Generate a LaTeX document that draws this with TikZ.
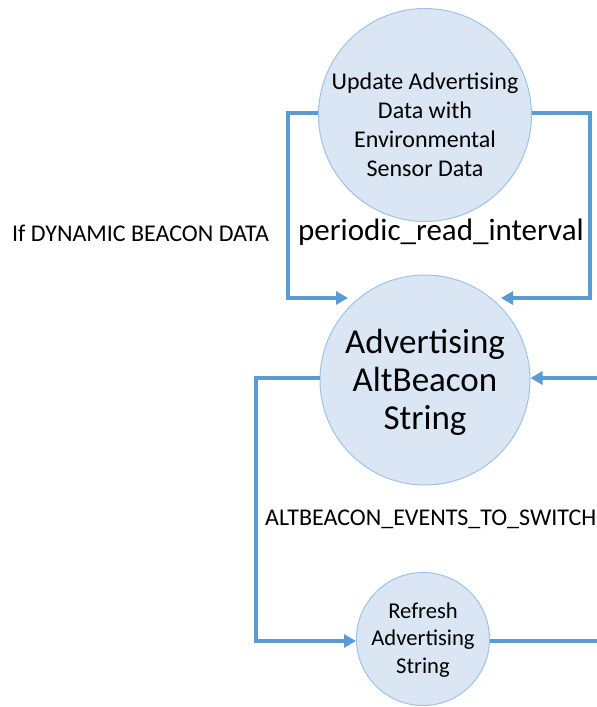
\documentclass[tikz,border=0pt]{standalone}
\usepackage{fontspec}
\setmainfont{Carlito}
\usetikzlibrary{arrows.meta}
\definecolor{cfill}{HTML}{DAE6F3}
\definecolor{cedge}{HTML}{9DC3E6}
\definecolor{lblue}{HTML}{5B9BD5}
\newcommand{\circtext}[2]{\raisebox{#1}[0pt][0pt]{\begin{tabular}[t]{@{}c@{}}#2\end{tabular}}}
\begin{document}
\begin{tikzpicture}[x=1pt,y=-1pt,
  state/.style={circle,fill=cfill,draw=cedge,line width=1pt,inner sep=0pt},
  conn/.style={draw=lblue,line width=4.5pt,-{Triangle[length=12pt,width=13pt]}},
  plain/.style={draw=lblue,line width=4.5pt}]
\clip (0,0) rectangle (597,707);
\fill[white] (0,0) rectangle (597,707);
\node[state,minimum size=213pt,font=\fontsize{24}{29.3}\selectfont] (upd) at (425,115) {\circtext{26pt}{Update Advertising\\Data with\\Environmental\\Sensor Data}};
\node[state,minimum size=210pt,font=\fontsize{35}{38}\selectfont] (adv) at (425,380) {\circtext{27pt}{Advertising\\AltBeacon\\String}};
\node[state,minimum size=133pt,font=\fontsize{22.6}{27.7}\selectfont] (ref) at (423,639) {\circtext{21pt}{Refresh\\Advertising\\String}};
\coordinate (offr) at (640,378);
\draw[conn] (upd.west |- 0,113) -- (288,113) -- (288,298) -- (348,298);
\draw[conn] (upd.east |- 0,113) -- (590,113) -- (590,298) -- (501,298);
\draw[conn] (adv.west |- 0,378) -- (256,378) -- (256,641) -- (ref.west |- 0,641);
\draw[plain] (ref.east |- 0,641) -- (640,641) -- (offr);
\draw[conn] (offr) -- (adv.east |- 0,378);
\node[anchor=base west,inner sep=0pt,font=\fontsize{24}{26}\selectfont] (l1) at (12,241) {If DYNAMIC BEACON DATA};
\node[anchor=base west,inner sep=0pt,font=\fontsize{31}{34}\selectfont] (l2) at (298,240) {periodic\_read\_interval};
\node[anchor=base west,inner sep=0pt,font=\fontsize{24}{26}\selectfont] (l3) at (265,525) {ALTBEACON\_EVENTS\_TO\_SWITCH};
\end{tikzpicture}
\end{document}
